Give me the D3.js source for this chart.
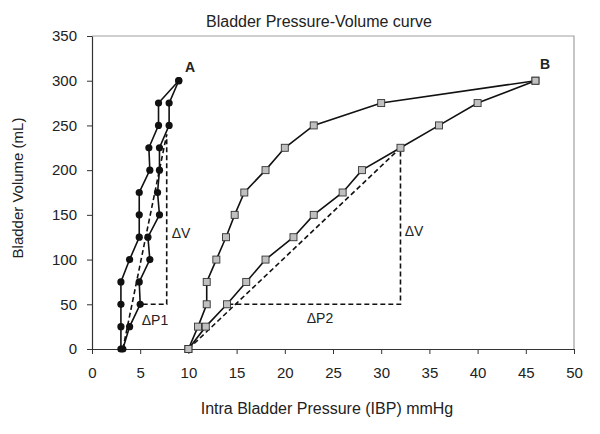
<!DOCTYPE html>
<html>
<head>
<meta charset="utf-8">
<script src="https://cdn.jsdelivr.net/npm/d3@7"></script>
<style>
  body { margin: 0; background: #fff; }
  text { font-family: "Liberation Sans", Arial, sans-serif; fill: #222; }
</style>
</head>
<body>
<div id="container"></div>
<script>
/* DATA */
const volumes = [0, 25, 50, 75, 100, 125, 150, 175, 200, 225, 250, 275, 300];
// curve A (two branches)
const pressureA1 = [3.0, 3.0, 3.0, 3.0, 3.9, 4.9, 4.9, 4.9, 6.0, 5.9, 6.9, 6.9, 9.0];
const pressureA2 = [3.2, 3.9, 5.0, 4.9, 6.0, 5.8, 7.0, 6.8, 7.0, 7.0, 8.0, 8.0, 9.0];
// curve B (two branches)
const pressureB1 = [10, 11, 11.9, 11.9, 12.9, 13.9, 14.8, 15.8, 18, 20, 23, 30, 46];
const pressureB2 = [10, 11.8, 14, 16, 18, 20.9, 23, 26, 28, 32, 36, 40, 46];
// compliance triangles: [pressure, volume]
const triA = [[3.2, 0], [7.75, 240], [7.75, 50], [5, 50]];
const triB = [[10, 0], [32, 225], [32, 50], [14, 50]];

const xTicks = d3.range(0, 51, 5);
const yTicks = d3.range(0, 351, 50);

/* CONSTANTS */
const width = 600, height = 434,
  margin = { top: 36, right: 26, bottom: 85, left: 92 };

const svg = d3.select("#container").append("svg")
  .attr("width", width).attr("height", height);

/* SCALES */
const x = d3.scaleLinear().domain([0, 50]).range([margin.left, width - margin.right]);
const y = d3.scaleLinear().domain([0, 350]).range([height - margin.bottom, margin.top]);

// frame (top and right, grey)
svg.append("path")
  .attr("d", `M${x(0)},${y(350)}H${x(50)}V${y(0)}`)
  .attr("fill", "none").attr("stroke", "#a0a0a0").attr("stroke-width", 1.2);

const xAxis = svg.append("g")
  .attr("transform", `translate(0,${y(0)})`)
  .call(d3.axisBottom(x).tickValues(xTicks).tickSize(5).tickSizeOuter(0).tickPadding(13));
const yAxis = svg.append("g")
  .attr("transform", `translate(${x(0)},0)`)
  .call(d3.axisLeft(y).tickValues(yTicks).tickSize(5).tickSizeOuter(0).tickPadding(10));

[xAxis, yAxis].forEach(g => {
  g.select(".domain").attr("stroke", "#333").attr("stroke-width", 1.2);
  g.selectAll(".tick line").attr("stroke", "#333");
  g.selectAll("text").attr("font-size", 15).style("font-family", "Liberation Sans, Arial, sans-serif").attr("fill", "#222");
});

/* DASHED TRIANGLES */
const triLine = d3.line().x(d => x(d[0])).y(d => y(d[1]));
[triA, triB].forEach(t => {
  svg.append("path").attr("d", triLine(t))
    .attr("fill", "none").attr("stroke", "#111").attr("stroke-width", 1.6)
    .attr("stroke-dasharray", "5,3");
});

/* CURVES */
const line = d3.line().x(d => x(d.p)).y(d => y(d.v));
const toPts = arr => arr.map((p, i) => ({ p: p, v: volumes[i] }));

[pressureA1, pressureA2, pressureB1, pressureB2].forEach(arr => {
  svg.append("path").attr("d", line(toPts(arr)))
    .attr("fill", "none").attr("stroke", "#111").attr("stroke-width", 1.6);
});

// markers A: black dots
[pressureA1, pressureA2].forEach(arr => {
  svg.append("g").selectAll("circle").data(toPts(arr)).join("circle")
    .attr("cx", d => x(d.p)).attr("cy", d => y(d.v)).attr("r", 3.6)
    .attr("fill", "#111");
});

// markers B: grey squares
const s = 7;
[pressureB1, pressureB2].forEach(arr => {
  svg.append("g").selectAll("rect").data(toPts(arr)).join("rect")
    .attr("x", d => x(d.p) - s / 2).attr("y", d => y(d.v) - s / 2)
    .attr("width", s).attr("height", s)
    .attr("fill", "#c0c0c0").attr("stroke", "#333").attr("stroke-width", 0.9);
});

/* LABELS */
svg.append("text").attr("x", 319).attr("y", 27).attr("text-anchor", "middle")
  .attr("font-size", 16).text("Bladder Pressure-Volume curve");

svg.append("text").attr("x", 327).attr("y", 414).attr("text-anchor", "middle")
  .attr("font-size", 16).text("Intra Bladder Pressure (IBP) mmHg");

svg.append("text").attr("transform", `translate(23,188) rotate(-90)`)
  .attr("text-anchor", "middle").attr("font-size", 15).text("Bladder Volume  (mL)");

svg.append("text").attr("x", 190).attr("y", 72).attr("text-anchor", "middle")
  .attr("font-size", 14).attr("font-weight", "bold").text("A");
svg.append("text").attr("x", 545).attr("y", 69).attr("text-anchor", "middle")
  .attr("font-size", 14).attr("font-weight", "bold").text("B");

const notes = [["ΔV", 181, 238], ["ΔP1", 155, 325], ["ΔV", 414, 236], ["ΔP2", 320, 323]];
svg.selectAll("text.note").data(notes).join("text").attr("class", "note")
  .attr("x", d => d[1]).attr("y", d => d[2]).attr("text-anchor", "middle")
  .attr("font-size", 14).attr("fill", "#333").text(d => d[0]);
</script>
</body>
</html>
